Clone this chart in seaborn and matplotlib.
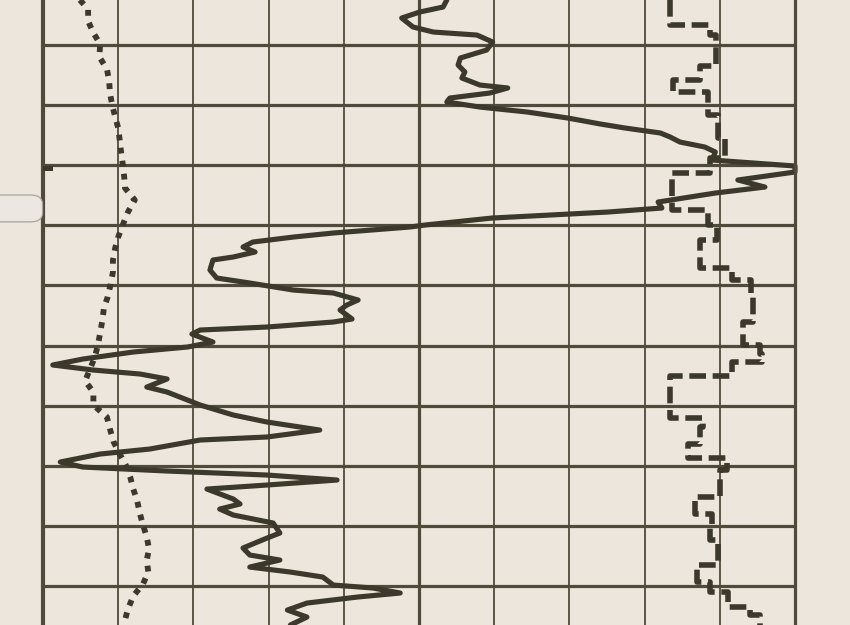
import matplotlib
matplotlib.use('Agg')
import matplotlib.pyplot as plt
from matplotlib.patches import FancyBboxPatch, Rectangle
import seaborn as sns
import numpy as np

# log curves read off the scanned strip (depth grid every 10 units, scale 0-100)
# solid curve
solid_depth = [-7.49, -6.32, -5.49, -4.49, -3.00, -2.16, -1.66, -0.50, 0.83, 2.16,
               3.33, 4.49, 5.49, 6.66, 7.15, 7.99, 8.82, 9.48, 10.32, 11.15,
               12.15, 13.14, 13.81, 14.64, 15.31, 16.14, 16.97, 17.80, 19.14, 20.13,
               21.13, 22.46, 23.63, 24.63, 26.12, 27.12, 27.79, 28.79, 29.95, 30.28,
               31.28, 31.95, 32.78, 33.61, 34.44, 35.27, 35.77, 37.44, 38.77, 39.60,
               40.77, 41.26, 42.43, 43.26, 44.09, 44.93, 45.59, 46.09, 46.92, 47.42,
               48.09, 49.42, 50.25, 51.08, 52.25, 53.24, 54.08, 54.74, 55.57, 56.91,
               57.74, 59.90, 61.56, 62.73, 64.06, 65.22, 65.72, 67.22, 68.05, 69.38,
               70.22, 70.88, 71.55, 72.38, 73.21, 73.88, 75.54, 76.37, 77.21, 78.20,
               79.53, 81.20, 82.03, 83.69, 84.86, 85.69, 86.86, 87.69, 88.52, 89.85,
               90.35, 91.18, 91.85, 92.85, 94.01, 95.18, 96.50]
solid_val = [53.7, 53.2, 50.1, 47.7, 49.2, 51.9, 57.7, 59.8, 59.0, 55.5,
             55.2, 56.1, 55.7, 58.1, 61.8, 59.4, 54.1, 53.7, 58.1, 64.4,
             69.8, 74.1, 77.4, 82.1, 83.4, 84.7, 88.0, 89.4, 89.0, 100.0,
             100.0, 92.4, 96.0, 89.4, 81.8, 82.3, 75.1, 59.7, 50.8, 48.8,
             38.6, 33.3, 27.9, 26.6, 28.2, 25.3, 22.6, 22.2, 23.1, 27.5,
             33.3, 38.6, 41.9, 40.4, 39.5, 40.4, 41.1, 38.6, 29.8, 20.9,
             19.8, 22.6, 19.2, 12.0, 5.3, 1.3, 6.7, 12.9, 16.5, 13.8,
             16.5, 20.9, 25.3, 29.8, 36.8, 29.8, 20.9, 14.2, 7.6, 2.3,
             5.3, 16.5, 29.8, 39.1, 29.8, 21.8, 25.3, 26.2, 23.5, 25.3,
             30.6, 31.5, 29.8, 26.6, 27.5, 31.5, 27.5, 32.9, 37.2, 38.6,
             43.9, 47.5, 41.8, 35.1, 32.5, 35.1, 32.9]

# dotted curve
dot_depth = [-7.49, -5.99, -3.99, -2.00, -0.17, 2.00, 3.99, 5.99, 7.99, 9.98,
             11.98, 13.81, 15.81, 17.97, 19.80, 21.96, 23.79, 25.79, 27.79, 29.95,
             31.95, 33.78, 35.77, 37.77, 39.77, 41.93, 43.76, 45.76, 47.92, 49.92,
             51.91, 55.91, 57.74, 59.90, 61.90, 63.89, 66.06, 68.05, 69.88, 71.88,
             73.88, 75.71, 78.04, 79.87, 81.86, 83.86, 85.69, 87.69, 89.68, 91.68,
             93.84, 95.67, 96.50]
dot_val = [4.9, 6.0, 6.0, 6.7, 7.6, 7.5, 8.5, 8.8, 8.9, 9.2,
           9.6, 10.0, 10.2, 10.4, 10.6, 10.8, 10.9, 12.2, 11.3, 10.6,
           10.0, 9.6, 9.3, 9.3, 9.0, 8.6, 8.1, 7.9, 7.6, 7.3,
           6.9, 5.6, 6.7, 6.7, 8.5, 8.9, 9.4, 10.2, 11.0, 11.6,
           12.0, 12.5, 12.9, 13.3, 13.8, 14.1, 13.8, 14.0, 13.3, 12.0,
           11.3, 10.9, 10.7]

# dashed step curve: top of each step and its value
step_top = [-7.5, -3.3, -1.7, 3.5, 5.8, 7.8, 11.6, 15.5, 18.8, 21.3,
            27.5, 30.0, 32.5, 37.1, 39.1, 41.6, 46.1, 49.9, 51.4, 52.8,
            55.1, 62.1, 63.6, 66.4, 68.7, 70.7, 75.2, 78.0, 79.7, 82.4,
            86.5, 89.4, 91.0, 93.5, 94.8]
step_val = [83.4, 88.7, 89.5, 87.4, 83.8, 88.4, 89.8, 90.7, 88.7, 83.6,
            88.4, 89.6, 87.4, 91.6, 94.2, 94.4, 93.1, 95.3, 95.6, 91.6,
            83.4, 87.8, 87.4, 85.8, 91.0, 90.0, 86.7, 89.0, 88.7, 89.8,
            87.0, 88.7, 91.1, 94.0, 95.3]
step_bottom = 96.5

paper = '#ece6dc'
ink = '#3b382c'
grid_ink = '#4f4a3a'

sns.set_style('white', {'axes.facecolor': paper, 'figure.facecolor': paper})

fig = plt.figure(figsize=(8.5, 6.25), dpi=100)
ax = fig.add_axes([43 / 850, 0, 752 / 850, 1])

ax.set_xlim(0, 100)
ax.set_ylim(96.5, -7.49)
ax.set_xticks(np.arange(0, 101, 10))
ax.set_yticks(np.arange(0, 91, 10))
ax.tick_params(left=False, bottom=False, labelleft=False, labelbottom=False)
ax.xaxis.grid(True, color=grid_ink, lw=1.3)
ax.yaxis.grid(True, color=grid_ink, lw=2.3)
ax.axvline(50, color=grid_ink, lw=2.3, zorder=0.5)
for side in ['top', 'bottom']:
    ax.spines[side].set_visible(False)
ax.spines['left'].set_color(grid_ink)
ax.spines['left'].set_linewidth(3.0)
ax.spines['right'].set_color(grid_ink)
ax.spines['right'].set_linewidth(2.3)
ax.set_axisbelow(True)

# step curve vertices
sd = np.repeat(np.append(step_top, step_bottom), 2)[1:-1]
sv = np.repeat(step_val, 2)

sns.lineplot(x=dot_val, y=dot_depth, sort=False, estimator=None, ax=ax,
             color=ink, lw=4.2, dashes=False)
ax.lines[-1].set_linestyle((0, (1, 1.25)))
ax.lines[-1].set_dash_capstyle('butt')

sns.lineplot(x=sv, y=sd, sort=False, estimator=None, ax=ax,
             color=ink, lw=4.0)
ax.lines[-1].set_linestyle((0, (3.0, 1.2)))
ax.lines[-1].set_dash_capstyle('butt')

sns.lineplot(x=solid_val, y=solid_depth, sort=False, estimator=None, ax=ax,
             color=ink, lw=3.7)
ax.lines[-1].set_solid_joinstyle('round')
ax.lines[-1].set_clip_on(False)

# scanned paper details: torn tab at left edge and a small nub on the border
fig.patches.append(FancyBboxPatch((-0.02, 0.645), 0.07, 0.043,
                                  boxstyle='round,pad=0,rounding_size=0.014',
                                  transform=fig.transFigure, fc='#ece8e1',
                                  ec='#a9a59b', lw=0.9))
fig.patches.append(Rectangle((0.05, 0.726), 0.012, 0.008,
                             transform=fig.transFigure, fc=ink, ec='none'))

fig.savefig('out.png', dpi=100, facecolor=paper)
